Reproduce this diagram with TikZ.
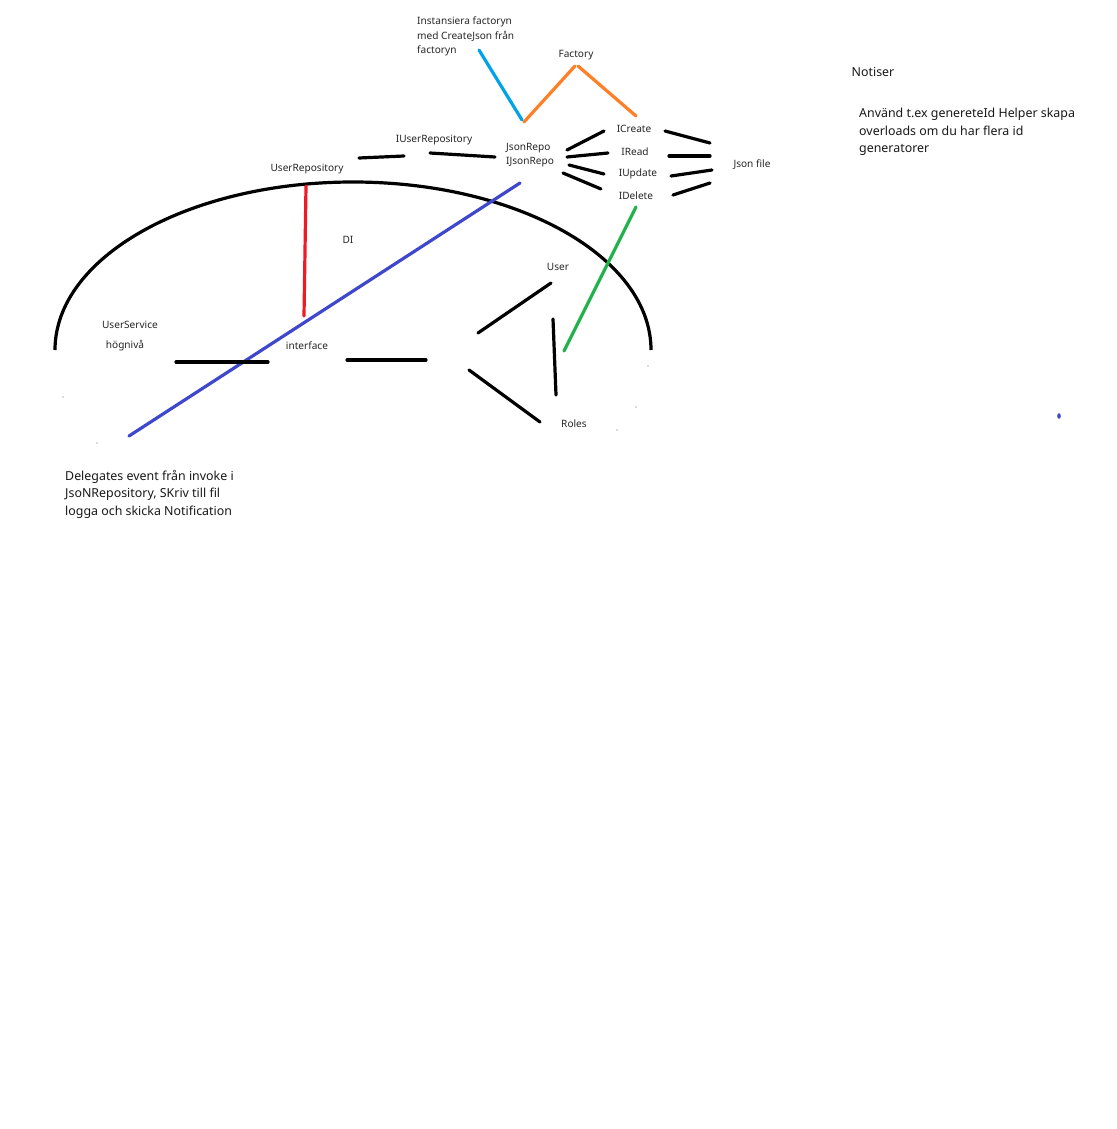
\documentclass[tikz,border=0pt]{standalone}
\usepackage{fontspec}
\setmainfont{Noto Sans}
\begin{document}
\begin{tikzpicture}[x=1pt,y=-1pt,
  lbl/.style={font=\fontsize{10.1}{14}\selectfont, inner sep=0pt, text=black!85},
  note/.style={font=\fontsize{12.4}{17.5}\selectfont, inner sep=0pt, align=left, anchor=north west, text=black!90},
  stroke/.style={line width=3.2pt, line cap=round},
  blk/.style={stroke, black},
]
\definecolor{lblue}{RGB}{0,162,232}
\definecolor{orng}{RGB}{255,127,39}
\definecolor{grn}{RGB}{34,177,76}
\definecolor{dblue}{RGB}{63,72,204}
\definecolor{rd}{RGB}{237,28,36}
\useasboundingbox[fill=white] (0,0) rectangle (1116,1129);

% big arc
\draw[line width=3.2pt, black] (55,350) arc[start angle=180, end angle=360, x radius=298, y radius=168];

% labels
\node[lbl, align=left, anchor=north west, font=\fontsize{10.1}{14.5}\selectfont] (inst) at (417,17) {Instansiera factoryn\\med CreateJson från\\factoryn};
\node[lbl] (factory) at (576,55) {Factory};
\node[lbl] (icreate) at (634,129) {ICreate};
\node[lbl] (iread) at (635,152) {IRead};
\node[lbl] (iupdate) at (638,174) {IUpdate};
\node[lbl] (idelete) at (636,196) {IDelete};
\node[lbl] (json) at (752,165) {Json file};
\node[lbl, align=left, anchor=north west, font=\fontsize{10.1}{14}\selectfont] (jsonrepo) at (506,143) {JsonRepo\\IJsonRepo};
\node[lbl] (iuserrepo) at (434,140) {IUserRepository};
\node[lbl] (userrepo) at (307,169) {UserRepository};
\node[lbl] (di) at (348,240) {DI};
\node[lbl] (user) at (558,267) {User};
\node[lbl] (userservice) at (130,325) {UserService};
\node[lbl] (hognivaa) at (125,346) {högnivå};
\node[lbl] (interface) at (307,346) {interface};
\node[lbl] (roles) at (574,424) {Roles};
\node[note, anchor=center] (notiser) at (873,72) {Notiser};
\node[note] (anvand) at (859,108) {Använd t.ex genereteId Helper skapa\\overloads om du har flera id\\generatorer};
\node[note] (delegates) at (65,470) {Delegates event från invoke i\\JsoNRepository, SKriv till fil\\logga och skicka Notification};

% coloured strokes
\draw[stroke, lblue] (479,50) -- (522,120);
\draw[stroke, orng] (524,122) -- (575,66);
\draw[stroke, orng] (578,66) -- (636,116);
\draw[stroke, rd] (306,186) -- (304,316);
\draw[stroke, dblue] (520,183) -- (129,436);
\draw[stroke, grn] (636,207) -- (564,351);

% black strokes
\draw[blk] (359,158) -- (404,156);
\draw[blk] (430,153) -- (495,157);
\draw[blk] (567,150) -- (604,131);
\draw[blk] (567,157) -- (608,153);
\draw[blk] (569,165) -- (604,174);
\draw[blk] (563,173) -- (601,189);
\draw[blk] (665,131) -- (710,143);
\draw[blk] (669,156) -- (710,156);
\draw[blk] (671,176) -- (712,170);
\draw[blk] (673,195) -- (710,183);
\draw[blk] (176,362) -- (268,362);
\draw[blk] (347,360) -- (426,360);
\draw[blk] (478,333) -- (551,283);
\draw[blk] (553,319) -- (556,395);
\draw[blk] (469,370) -- (540,422);

% specks
\fill[black!60] (63,397) circle (0.7);
\fill[black!60] (97,443) circle (0.6);
\fill[black!60] (636,407) circle (0.6);
\fill[black!60] (617,430) circle (0.6);
\fill[black!60] (648,366) circle (0.7);
\fill[dblue] (1059,416) ellipse (1.8 and 2.8);
\end{tikzpicture}
\end{document}
